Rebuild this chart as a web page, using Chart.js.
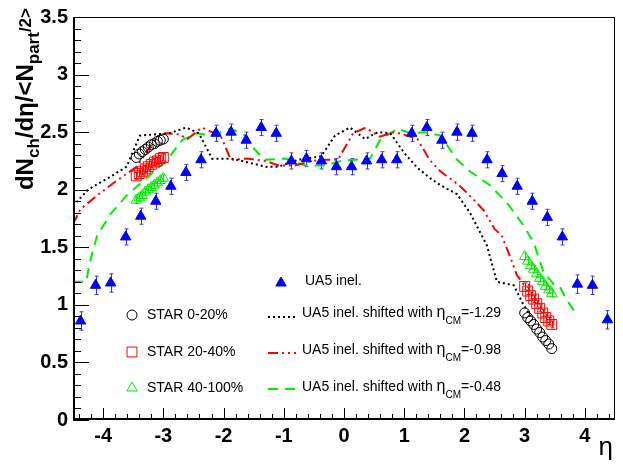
<!DOCTYPE html>
<html>
<head>
<meta charset="utf-8">
<script src="https://cdn.jsdelivr.net/npm/chart.js@4/dist/chart.umd.min.js"></script>
<style>
  html, body { margin: 0; padding: 0; background: #fff; }
</style>
</head>
<body>
<canvas id="dndeta" width="623" height="464"></canvas>
<script>
// UA5 inelastic points (symmetric bins of 0.25 in eta)
const ua5Eta = [-4.375, -4.125, -3.875, -3.625, -3.375, -3.125, -2.875, -2.625, -2.375, -2.125,
  -1.875, -1.625, -1.375, -1.125, -0.875, -0.625, -0.375, -0.125,
  0.125, 0.375, 0.625, 0.875, 1.125, 1.375, 1.625, 1.875, 2.125,
  2.375, 2.625, 2.875, 3.125, 3.375, 3.625, 3.875, 4.125, 4.375];
const ua5Val = [0.86, 1.17, 1.19, 1.59, 1.77, 1.90, 2.03, 2.15, 2.26, 2.49,
  2.50, 2.43, 2.54, 2.49, 2.25, 2.27, 2.25, 2.20,
  2.20, 2.25, 2.26, 2.26, 2.49, 2.54, 2.43, 2.50, 2.49,
  2.26, 2.14, 2.03, 1.90, 1.76, 1.59, 1.18, 1.17, 0.87];
const ua5Err = [0.08, 0.08, 0.08, 0.07, 0.07, 0.07, 0.07, 0.07, 0.07, 0.07,
  0.07, 0.07, 0.07, 0.07, 0.07, 0.07, 0.07, 0.07,
  0.07, 0.07, 0.07, 0.07, 0.07, 0.07, 0.07, 0.07, 0.07,
  0.07, 0.07, 0.07, 0.07, 0.07, 0.07, 0.08, 0.08, 0.08];

// STAR points, backward and forward
const starEta = [-3.45, -3.40, -3.35, -3.30, -3.25, -3.20, -3.15, -3.10, -3.05, -3.00,
  3.00, 3.05, 3.10, 3.15, 3.20, 3.25, 3.30, 3.35, 3.40, 3.45];
const star0020 = [2.28, 2.31, 2.33, 2.35, 2.37, 2.39, 2.40, 2.42, 2.43, 2.44,
  0.93, 0.89, 0.86, 0.83, 0.79, 0.76, 0.72, 0.69, 0.66, 0.62];
const star2040 = [2.12, 2.14, 2.16, 2.18, 2.20, 2.22, 2.24, 2.25, 2.27, 2.28,
  1.16, 1.12, 1.08, 1.05, 1.01, 0.97, 0.93, 0.89, 0.86, 0.83];
const star40100 = [1.91, 1.93, 1.95, 1.98, 2.00, 2.02, 2.04, 2.06, 2.08, 2.10,
  1.42, 1.38, 1.34, 1.31, 1.27, 1.23, 1.20, 1.16, 1.13, 1.10];
const starErr = 0.03;

// UA5 curve shifted by eta_CM
const blackEta = [-4.5, -4.25, -3.92, -3.61, -3.39, -2.90, -2.62, -2.41, -2.19, -1.86, -1.30, -1.09,
  -0.76, -0.38, -0.15, 0.10, 0.35, 0.56, 0.77, 1.00, 1.22, 1.43, 1.60, 1.88, 2.09, 2.26, 2.37,
  2.54, 2.82, 2.98, 3.10];
const blackVal = [1.86, 2.00, 2.10, 2.20, 2.47, 2.49, 2.54, 2.49, 2.27, 2.27, 2.20, 2.20,
  2.26, 2.29, 2.47, 2.54, 2.44, 2.50, 2.49, 2.32, 2.19, 2.10, 2.04, 1.96, 1.80, 1.63, 1.52,
  1.20, 1.17, 1.00, 0.90];
const redEta = [-4.5, -4.38, -4.05, -3.77, -3.44, -3.11, -2.95, -2.73, -2.60, -2.36, -2.19, -2.04,
  -1.88, -1.61, -1.30, -1.09, -0.81, -0.54, -0.31, -0.10, 0.15, 0.36, 0.59, 0.84, 1.05, 1.22,
  1.42, 1.60, 1.91, 2.16, 2.32, 2.50, 2.62, 2.75, 2.87, 2.98, 3.10];
const redVal = [1.70, 1.83, 1.97, 2.08, 2.20, 2.46, 2.49, 2.48, 2.44, 2.54, 2.50, 2.46,
  2.26, 2.27, 2.25, 2.21, 2.21, 2.25, 2.26, 2.26, 2.49, 2.54, 2.46, 2.50, 2.47, 2.44,
  2.26, 2.16, 2.04, 1.91, 1.82, 1.66, 1.60, 1.43, 1.26, 1.18, 1.17];
const greenEta = [-4.5, -4.28, -4.22, -4.10, -3.89, -3.61, -3.28, -2.95, -2.69, -2.45, -2.19, -1.88,
  -1.63, -1.53, -1.33, -0.97, -0.64, -0.31, -0.05, 0.18, 0.43, 0.61, 0.89, 1.10, 1.33, 1.60,
  1.88, 2.09, 2.42, 2.70, 2.98, 3.15, 3.31, 3.48, 3.57, 3.69, 3.86];
const greenVal = [1.20, 1.20, 1.37, 1.60, 1.78, 1.95, 2.10, 2.25, 2.43, 2.49, 2.47, 2.53,
  2.47, 2.38, 2.26, 2.27, 2.21, 2.21, 2.25, 2.26, 2.27, 2.44, 2.53, 2.49, 2.50, 2.47,
  2.26, 2.16, 2.04, 1.89, 1.69, 1.54, 1.29, 1.18, 1.17, 1.05, 0.92];

const xTickVals = [-4, -3, -2, -1, 0, 1, 2, 3, 4];
const yTickVals = [0, 0.5, 1, 1.5, 2, 2.5, 3, 3.5];

const FONT = '"Liberation Sans", Arial, Helvetica, sans-serif';
const BLUE = '#0000ff', RED = '#ff0000', GREEN = '#00ee00';

const pts = (xs, ys) => xs.map((x, i) => ({ x: x, y: ys[i] }));

// error bars, ticks, frame, axis titles and legend
const rootStyle = {
  id: 'rootStyle',
  beforeDatasetsDraw(chart) {
    const ctx = chart.ctx, xs = chart.scales.x, ys = chart.scales.y;
    ctx.save();
    chart.data.datasets.forEach(ds => {
      if (!ds.errors) return;
      ctx.strokeStyle = ds.errColor || ds.borderColor;
      ctx.lineWidth = 1;
      ds.data.forEach((p, i) => {
        const e = Array.isArray(ds.errors) ? ds.errors[i] : ds.errors;
        const x = Math.round(xs.getPixelForValue(p.x)) + 0.5;
        const y1 = ys.getPixelForValue(p.y - e), y2 = ys.getPixelForValue(p.y + e);
        ctx.beginPath();
        ctx.moveTo(x, y1); ctx.lineTo(x, y2);
        ctx.moveTo(x - 2, y1); ctx.lineTo(x + 2, y1);
        ctx.moveTo(x - 2, y2); ctx.lineTo(x + 2, y2);
        ctx.stroke();
      });
    });
    ctx.restore();
  },
  afterDraw(chart) {
    const ctx = chart.ctx, a = chart.chartArea, xs = chart.scales.x, ys = chart.scales.y;
    ctx.save();
    ctx.strokeStyle = '#000';
    ctx.lineWidth = 1;
    ctx.strokeRect(a.left + 0.5, a.top + 0.5, a.right - a.left - 1, a.bottom - a.top - 1);
    ctx.lineWidth = 2;
    ctx.beginPath();
    ctx.moveTo(a.left + 1, a.top); ctx.lineTo(a.left + 1, a.bottom);
    ctx.moveTo(a.left, a.bottom - 1); ctx.lineTo(a.right, a.bottom - 1);
    ctx.stroke();
    ctx.lineWidth = 1;
    ctx.beginPath();
    for (let v = 0; v <= 35; v++) {
      const y = Math.round(ys.getPixelForValue(v / 10)) + 0.5;
      ctx.moveTo(a.left, y); ctx.lineTo(a.left + (v % 5 === 0 ? 16 : 8), y);
    }
    for (let v = -44; v <= 44; v += 2) {
      const x = Math.round(xs.getPixelForValue(v / 10)) + 0.5;
      ctx.moveTo(x, a.bottom); ctx.lineTo(x, a.bottom - (v % 10 === 0 ? 12 : 6));
    }
    ctx.stroke();

    // x title
    ctx.fillStyle = '#000';
    ctx.font = '26px ' + FONT;
    ctx.textAlign = 'right';
    ctx.textBaseline = 'alphabetic';
    ctx.fillText('\u03b7', 613, 455);

    // y title, rotated, ending at the top of the axis
    const segs = [
      { t: 'dN', f: 'bold 24px ', dy: 0 },
      { t: 'ch', f: 'bold 17px ', dy: 6 },
      { t: '/d\u03b7/<N', f: 'bold 24px ', dy: 0 },
      { t: 'part', f: 'bold 17px ', dy: 6 },
      { t: '/2>', f: 'bold 17px ', dy: -2 }
    ];
    let total = 0;
    segs.forEach(s => { ctx.font = s.f + FONT; s.w = ctx.measureText(s.t).width; total += s.w; });
    ctx.save();
    ctx.translate(33, 8 + total);
    ctx.rotate(-Math.PI / 2);
    ctx.textAlign = 'left';
    let cx = 0;
    segs.forEach(s => { ctx.font = s.f + FONT; ctx.fillText(s.t, cx, s.dy); cx += s.w; });
    ctx.restore();

    // legend
    const H = Chart.helpers;
    const marker = (style, r, x, y, color, filled) => {
      ctx.strokeStyle = color;
      ctx.fillStyle = filled ? color : 'rgba(0,0,0,0)';
      ctx.lineWidth = 1;
      H.drawPoint(ctx, { pointStyle: style, radius: r, borderWidth: 1, rotation: 0 }, x, y);
    };
    const label = (text, x, y) => {
      ctx.fillStyle = '#000';
      ctx.font = '14px ' + FONT;
      ctx.textAlign = 'left';
      ctx.textBaseline = 'middle';
      ctx.fillText(text, x, y);
    };
    const shifted = (val, x, y) => {
      label('UA5 inel. shifted with ', x, y);
      let w = ctx.measureText('UA5 inel. shifted with ').width;
      ctx.font = '16px ' + FONT;
      ctx.fillText('\u03b7', x + w, y);
      w += ctx.measureText('\u03b7').width;
      ctx.font = '10px ' + FONT;
      ctx.fillText('CM', x + w, y + 8);
      w += ctx.measureText('CM').width;
      ctx.font = '14px ' + FONT;
      ctx.fillText('=' + val, x + w, y);
    };
    const lineSample = (color, dash, y) => {
      ctx.strokeStyle = color;
      ctx.lineWidth = 2;
      ctx.setLineDash(dash);
      ctx.beginPath(); ctx.moveTo(268, y); ctx.lineTo(296, y); ctx.stroke();
      ctx.setLineDash([]);
    };
    marker('triangle', 6, 281, 283, BLUE, true);
    label('UA5 inel.', 305, 281);
    marker('circle', 5, 132, 315, '#000', false);
    label('STAR 0-20%', 147, 315);
    marker('rect', 7, 132, 352, RED, false);
    label('STAR 20-40%', 147, 352);
    marker('triangle', 6, 132, 388, GREEN, false);
    label('STAR 40-100%', 147, 388);
    lineSample('#000', [2, 3], 317);
    shifted('-1.29', 302, 313);
    lineSample(RED, [10, 4, 2, 4, 2, 4], 353);
    shifted('-0.98', 302, 350);
    lineSample(GREEN, [10, 7], 389);
    shifted('-0.48', 302, 387);
    ctx.restore();
  }
};

new Chart(document.getElementById('dndeta'), {
  type: 'scatter',
  data: {
    datasets: [
      { label: 'UA5 inel.', data: pts(ua5Eta, ua5Val), errors: ua5Err, errColor: '#3333ff',
        pointStyle: 'triangle', pointRadius: 6, backgroundColor: BLUE, borderColor: BLUE, borderWidth: 1 },
      { label: 'STAR 0-20%', data: pts(starEta, star0020),
        pointStyle: 'circle', pointRadius: 5, backgroundColor: 'rgba(0,0,0,0)', borderColor: '#000', borderWidth: 1 },
      { label: 'STAR 20-40%', data: pts(starEta, star2040), errors: starErr,
        pointStyle: 'rect', pointRadius: 7, backgroundColor: 'rgba(0,0,0,0)', borderColor: RED, borderWidth: 1 },
      { label: 'STAR 40-100%', data: pts(starEta, star40100), errors: starErr,
        pointStyle: 'triangle', pointRadius: 6, backgroundColor: 'rgba(0,0,0,0)', borderColor: GREEN, borderWidth: 1 },
      { label: 'shift -1.29', data: pts(blackEta, blackVal), showLine: true, pointRadius: 0,
        borderColor: '#000', borderWidth: 2, borderDash: [2, 3] },
      { label: 'shift -0.98', data: pts(redEta, redVal), showLine: true, pointRadius: 0,
        borderColor: RED, borderWidth: 2, borderDash: [10, 4, 2, 4, 2, 4] },
      { label: 'shift -0.48', data: pts(greenEta, greenVal), showLine: true, pointRadius: 0,
        borderColor: GREEN, borderWidth: 2, borderDash: [10, 7] }
    ]
  },
  options: {
    responsive: false,
    animation: false,
    devicePixelRatio: 1,
    layout: { padding: { top: 12, right: 7, left: 0, bottom: 0 } },
    plugins: { legend: { display: false }, tooltip: { enabled: false } },
    scales: {
      x: {
        type: 'linear', min: -4.5, max: 4.5,
        grid: { display: false, drawTicks: false }, border: { display: false },
        afterBuildTicks: s => { s.ticks = xTickVals.map(v => ({ value: v })); },
        afterFit: s => { s.height = 44; },
        ticks: { padding: 4, color: '#000', font: { family: FONT, size: 20, weight: 'bold' },
          callback: v => String(v) }
      },
      y: {
        type: 'linear', min: 0, max: 3.5,
        grid: { display: false, drawTicks: false }, border: { display: false },
        afterBuildTicks: s => { s.ticks = yTickVals.map(v => ({ value: v })); },
        afterFit: s => { s.width = 73; },
        ticks: { padding: 5, color: '#000', font: { family: FONT, size: 20, weight: 'bold' },
          callback: v => String(v) }
      }
    }
  },
  plugins: [rootStyle]
});
</script>
</body>
</html>
